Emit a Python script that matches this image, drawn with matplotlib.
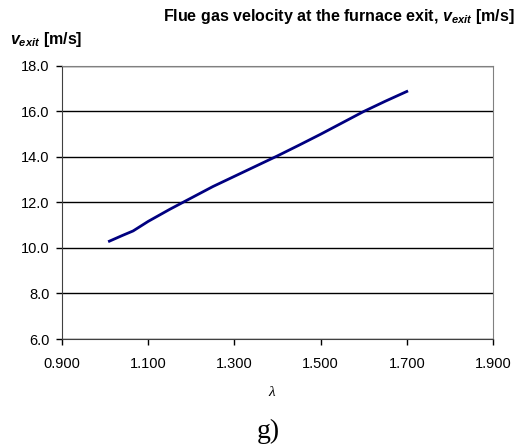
import matplotlib
matplotlib.use("Agg")
import matplotlib.pyplot as plt

# excess air ratio and flue gas velocity at furnace exit
lam = [1.01, 1.04, 1.065, 1.10, 1.15, 1.20, 1.25, 1.30, 1.35,
       1.40, 1.45, 1.50, 1.55, 1.60, 1.65, 1.70]
v_exit = [10.3, 10.55, 10.75, 11.17, 11.7, 12.2, 12.7, 13.15, 13.6,
          14.05, 14.52, 15.0, 15.5, 16.0, 16.45, 16.88]

x_ticks = [0.9, 1.1, 1.3, 1.5, 1.7, 1.9]
y_ticks = [6.0, 8.0, 10.0, 12.0, 14.0, 16.0, 18.0]

plt.rcParams['font.family'] = ['Liberation Sans', 'DejaVu Sans']
plt.rcParams['mathtext.fontset'] = 'custom'
plt.rcParams['mathtext.it'] = 'Liberation Sans:italic:bold'
plt.rcParams['mathtext.rm'] = 'Liberation Sans:bold'

fig = plt.figure(figsize=(5.18, 4.45), dpi=100)
ax = fig.add_axes([0.1197, 0.2382, 0.832, 0.6135])

ax.plot(lam, v_exit, color='#000080', lw=2)

ax.set_xlim(0.9, 1.9)
ax.set_ylim(6.0, 18.0)
ax.set_xticks(x_ticks)
ax.set_xticklabels([f"{t:.3f}" for t in x_ticks])
ax.set_yticks(y_ticks)
ax.set_yticklabels([f"{t:.1f}" for t in y_ticks])
ax.tick_params(direction='out', length=4, width=1, labelsize=10.5,
               colors='black')
ax.tick_params(axis='x', pad=9)
ax.tick_params(axis='y', pad=5)
ax.grid(axis='y', color='black', lw=1)
ax.set_axisbelow(True)

for side in ('top', 'right'):
    ax.spines[side].set_color('#808080')
for side in ('left', 'bottom'):
    ax.spines[side].set_color('#404040')

fig.text(0.994, 0.962, "Flue gas velocity at the furnace exit, $v_{exit}$ [m/s]",
         ha='right', va='center', fontsize=11.5, fontweight='bold')
fig.text(0.02, 0.912, "$v_{exit}$ [m/s]", ha='left', va='center',
         fontsize=11.5, fontweight='bold')

fig.text(0.525, 0.117, "λ", ha='center', va='center', fontsize=11,
         style='italic', family='Liberation Serif')
fig.text(0.518, 0.03, "g)", ha='center', va='center', fontsize=20,
         family='Liberation Serif')

fig.savefig("out.png", dpi=100)
